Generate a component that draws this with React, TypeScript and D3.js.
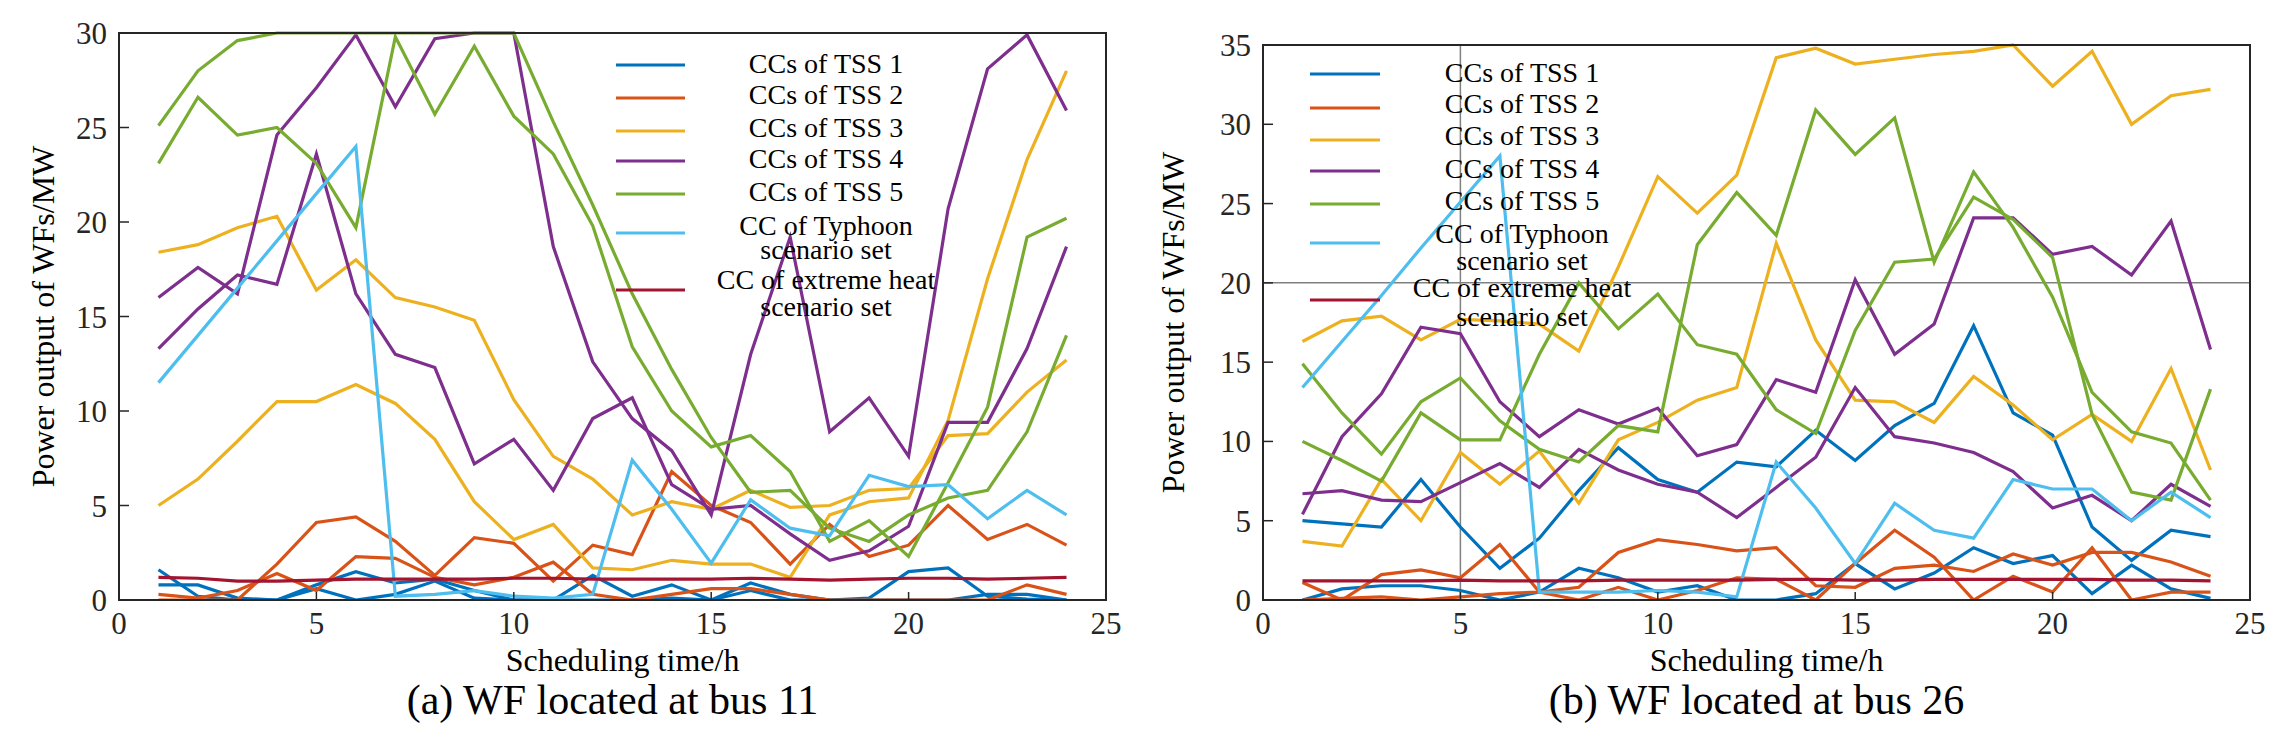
import React from "react";
import * as d3 from "d3";

const hours = d3.range(1, 25);

// ---- Panel (a): WF located at bus 11 ----
const aTSS1 = [
  [1.6,0.2,0,0,0.8,1.5,0.9,1.1,0.5,0,0,1.3,0.2,0.8,0,0.9,0.3,0,0.1,1.5,1.7,0.2,0.05,0],
  [0.8,0.8,0.1,0,0.6,0,0.3,1.0,0.1,0,0,0,0,0.1,0,0.5,0,0,0,0,0,0.3,0.3,0],
];
const aTSS2 = [
  [0.3,0.1,0.5,1.4,0.5,2.3,2.2,1.2,0.8,1.2,2.0,0.3,0,0.3,0.6,0.6,0.3,0,0,0,0,0,0.8,0.3],
  [0,0,0,1.9,4.1,4.4,3.1,1.3,3.3,3.0,1.0,2.9,2.4,6.8,5.0,4.1,1.9,4.0,2.3,2.9,5.0,3.2,4.0,2.9],
];
const aTSS3 = [
  [18.4,18.8,19.7,20.3,16.4,18.0,16.0,15.5,14.8,10.6,7.6,6.4,4.5,5.2,4.8,5.8,4.9,5.0,5.8,5.9,8.7,8.8,11.0,12.7],
  [5.0,6.4,8.4,10.5,10.5,11.4,10.4,8.5,5.2,3.2,4.0,1.7,1.6,2.1,1.9,1.9,1.2,4.5,5.2,5.4,9.5,17.0,23.3,28.0],
];
const aTSS4 = [
  [16.0,17.6,16.2,24.6,27.1,29.9,26.1,29.7,30,30,18.7,12.6,9.6,7.9,4.5,13.0,19.2,8.9,10.7,7.6,20.7,28.1,29.9,25.9],
  [13.3,15.4,17.2,16.7,23.6,16.2,13.0,12.3,7.2,8.5,5.8,9.6,10.7,6.1,4.8,5.0,3.5,2.1,2.6,3.9,9.4,9.4,13.3,18.7],
];
const aTSS5 = [
  [25.1,28.0,29.6,30,30,30,30,30,30,30,25.3,20.9,16.2,12.2,8.6,5.7,5.8,3.8,3.1,4.5,5.4,5.8,8.9,14.0],
  [23.1,26.6,24.6,25.0,23.1,19.7,29.8,25.7,29.3,25.6,23.6,19.8,13.4,10.0,8.1,8.7,6.8,3.1,4.2,2.3,6.2,10.2,19.2,20.2],
];
const aTyphoon = [11.5,14.0,16.5,19.0,21.5,24.0,0.2,0.3,0.5,0.2,0.1,0.3,7.4,4.8,1.95,5.3,3.8,3.4,6.6,6.0,6.1,4.3,5.8,4.5];
const aHeat = [1.2,1.15,1.0,1.0,1.05,1.1,1.1,1.1,1.1,1.15,1.15,1.1,1.1,1.1,1.1,1.15,1.1,1.05,1.1,1.15,1.15,1.1,1.15,1.2];

// ---- Panel (b): WF located at bus 26 ----
const bTSS1 = [
  [5.0,4.8,4.6,7.6,4.6,2.0,3.9,6.9,9.6,7.6,6.8,8.7,8.4,10.7,8.8,11.0,12.4,17.3,11.8,10.4,4.6,2.5,4.4,4.0],
  [0,0.7,0.9,0.9,0.6,0,0.5,2.0,1.4,0.5,0.9,0,0,0.4,2.3,0.7,1.7,3.3,2.3,2.8,0.4,2.2,0.7,0.1],
];
const bTSS2 = [
  [1.1,0,1.6,1.9,1.4,3.5,0.5,0,0.8,0,0.6,1.4,1.3,0,2.3,4.4,2.7,0,1.5,0.5,3.3,0,0.5,0.5],
  [0,0.1,0.2,0,0.2,0.4,0.5,0.8,3.0,3.8,3.5,3.1,3.3,0.9,0.8,2.0,2.2,1.8,2.9,2.2,3.0,3.0,2.4,1.5],
];
const bTSS3 = [
  [16.3,17.6,17.9,16.4,17.7,17.6,17.4,15.7,21.0,26.7,24.4,26.8,34.2,34.8,33.8,34.1,34.4,34.6,35.0,32.4,34.6,30.0,31.8,32.2],
  [3.7,3.4,7.6,5.0,9.3,7.3,9.4,6.1,10.1,11.2,12.6,13.4,22.5,16.4,12.6,12.5,11.2,14.1,12.3,10.1,11.7,10.0,14.6,8.2],
];
const bTSS4 = [
  [5.4,10.3,13.0,17.2,16.8,12.5,10.3,12.0,11.1,12.1,9.1,9.8,13.9,13.1,20.2,15.5,17.4,24.1,24.1,21.8,22.3,20.5,23.9,15.8],
  [6.7,6.9,6.3,6.2,7.4,8.6,7.1,9.5,8.2,7.3,6.8,5.2,7.1,9.0,13.4,10.3,9.9,9.3,8.1,5.8,6.6,5.0,7.3,5.9],
];
const bTSS5 = [
  [14.9,11.8,9.2,12.5,14.0,11.3,9.5,8.7,11.0,10.6,22.4,25.7,23.0,30.9,28.1,30.4,21.3,27.0,23.5,19.1,13.1,10.6,9.9,6.3],
  [10.0,8.8,7.5,11.8,10.1,10.1,15.5,20.0,17.1,19.3,16.1,15.5,12.0,10.5,17.0,21.3,21.5,25.4,24.0,21.6,11.7,6.8,6.3,13.3],
];
const bTyphoon = [13.4,16.3,19.2,22.2,25.1,28.0,0.5,0.5,0.5,0.6,0.5,0.2,8.7,5.8,2.3,6.1,4.4,3.9,7.6,7.0,7.0,5.0,6.8,5.2];
const bHeat = [1.2,1.2,1.2,1.2,1.25,1.2,1.2,1.2,1.25,1.25,1.25,1.25,1.3,1.3,1.25,1.25,1.3,1.3,1.3,1.3,1.3,1.25,1.25,1.2];

const xTicks = [0, 5, 10, 15, 20, 25];
const aYTicks = [0, 5, 10, 15, 20, 25, 30];
const bYTicks = [0, 5, 10, 15, 20, 25, 30, 35];

const legendLabels = [
  ["CCs of TSS 1"], ["CCs of TSS 2"], ["CCs of TSS 3"], ["CCs of TSS 4"], ["CCs of TSS 5"],
  ["CC of Typhoon", "scenario set"], ["CC of extreme heat", "scenario set"],
];
const colors = ["#0072BD", "#D95319", "#EDB120", "#7E2F8E", "#77AC30", "#4DBEEE", "#A2142F"];
const FONT = "Liberation Serif, Times New Roman, Times, DejaVu Serif, serif";

type PanelProps = {
  left: number; right: number; top: number; bottom: number; yMax: number; yTicks: number[];
  groups: number[][][]; typhoon: number[]; heat: number[]; caption: string; grid: boolean;
  legend: { x1: number; x2: number; tx: number; rows: number[]; base: number[][] };
  yTitleX: number;
};

function Panel(p: PanelProps) {
  const x = d3.scaleLinear().domain([0, 25]).range([p.left, p.right]);
  const y = d3.scaleLinear().domain([0, p.yMax]).range([p.bottom, p.top]);
  const line = d3.line<number>().x((_, i) => x(hours[i])).y((v) => y(v));
  const series: { c: string; d: number[] }[] = [];
  p.groups.forEach((g, gi) => g.forEach((d) => series.push({ c: colors[gi], d })));
  series.push({ c: colors[5], d: p.typhoon });
  series.push({ c: colors[6], d: p.heat });
  const cx = (p.left + p.right) / 2;
  return (
    <g style={{ fontFamily: FONT }}>
      <defs>
        <clipPath id={"clip" + p.left}>
          <rect x={p.left} y={p.top - 2} width={p.right - p.left} height={p.bottom - p.top + 2} />
        </clipPath>
      </defs>
      {p.grid && (
        <g stroke="#808080" strokeWidth={1.5}>
          <line x1={x(5)} x2={x(5)} y1={p.top} y2={p.bottom} />
          <line x1={p.left} x2={p.right} y1={y(20)} y2={y(20)} />
        </g>
      )}
      <g clipPath={`url(#clip${p.left})`}>
        {series.map((s, i) => (
          <path key={i} d={line(s.d) || ""} fill="none" stroke={s.c} strokeWidth={3.2} strokeLinejoin="miter" />
        ))}
      </g>
      <rect x={p.left} y={p.top} width={p.right - p.left} height={p.bottom - p.top} fill="none" stroke="#262626" strokeWidth={2} />
      {xTicks.map((t) => (
        <g key={"x" + t}>
          <line x1={x(t)} x2={x(t)} y1={p.bottom} y2={p.bottom - 8} stroke="#262626" strokeWidth={1.5} />
          <text x={x(t)} y={p.bottom + 34} fontSize={31} textAnchor="middle" fill="#262626">{t}</text>
        </g>
      ))}
      {p.yTicks.map((t) => (
        <g key={"y" + t}>
          <line x1={p.left} x2={p.left + 10} y1={y(t)} y2={y(t)} stroke="#262626" strokeWidth={1.5} />
          <text x={p.left - 12} y={y(t) + 11} fontSize={31} textAnchor="end" fill="#262626">{t}</text>
        </g>
      ))}
      <text x={cx + 10} y={663} fontSize={32} textAnchor="middle">Scheduling time/h</text>
      <text x={cx} y={706} fontSize={42} textAnchor="middle">{p.caption}</text>
      <text transform={`translate(${p.yTitleX},${(p.top + p.bottom) / 2}) rotate(-90)`} fontSize={32} textAnchor="middle">
        Power output of WFs/MW
      </text>
      {legendLabels.map((lab, i) => (
        <g key={"l" + i}>
          <line x1={p.legend.x1} x2={p.legend.x2} y1={p.legend.rows[i]} y2={p.legend.rows[i]} stroke={colors[i]} strokeWidth={3.2} />
          {lab.map((t, j) => (
            <text key={j} x={p.legend.tx} y={p.legend.base[i][j]} fontSize={28} textAnchor="middle">{t}</text>
          ))}
        </g>
      ))}
    </g>
  );
}

export default function App() {
  return (
    <svg width={2262} height={722} style={{ display: "block", background: "#fff", fontFamily: FONT }}>
      <Panel left={111} right={1098} top={25} bottom={592} yMax={30} yTicks={aYTicks}
        groups={[aTSS1, aTSS2, aTSS3, aTSS4, aTSS5]} typhoon={aTyphoon} heat={aHeat}
        caption="(a) WF located at bus 11" grid={false} yTitleX={46}
        legend={{ x1: 608, x2: 677, tx: 818, rows: [57, 90, 123, 153, 186, 225, 282],
          base: [[65], [96], [129], [160], [193], [227, 251], [281, 308]] }} />
      <Panel left={1255} right={2242} top={37} bottom={592} yMax={35} yTicks={bYTicks}
        groups={[bTSS1, bTSS2, bTSS3, bTSS4, bTSS5]} typhoon={bTyphoon} heat={bHeat}
        caption="(b) WF located at bus 26" grid={true} yTitleX={1176}
        legend={{ x1: 1302, x2: 1372, tx: 1514, rows: [66, 100, 132, 163, 196, 235, 292],
          base: [[74], [105], [137], [170], [202], [235, 262], [289, 318]] }} />
    </svg>
  );
}
